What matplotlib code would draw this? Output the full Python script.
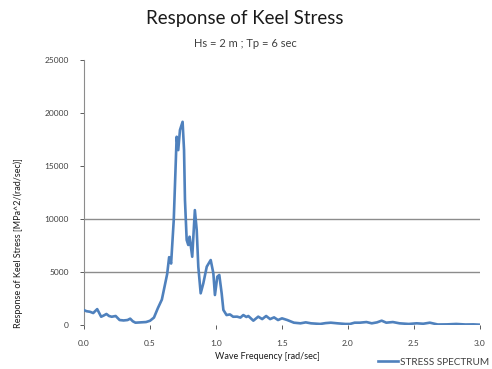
import numpy as np
import matplotlib.pyplot as plt

plt.rcParams['font.family'] = ['Lato', 'DejaVu Sans']

# wave frequency [rad/sec] and stress spectrum [MPa^2/(rad/sec)]
freq = [0.00, 0.02, 0.045, 0.07, 0.10, 0.13, 0.15, 0.17, 0.19, 0.21, 0.24, 0.27,
        0.30, 0.33, 0.35, 0.37, 0.39, 0.43, 0.47, 0.50, 0.53, 0.56, 0.59, 0.61,
        0.63, 0.645, 0.66, 0.68, 0.702, 0.714, 0.727, 0.747, 0.758, 0.765, 0.778,
        0.79, 0.80, 0.82, 0.84, 0.854, 0.866, 0.884, 0.904, 0.93, 0.96, 0.98,
        0.992, 1.01, 1.025, 1.043, 1.056, 1.08, 1.106, 1.13, 1.16, 1.185, 1.207,
        1.23, 1.245, 1.283, 1.32, 1.35, 1.38, 1.41, 1.44, 1.47, 1.50, 1.54, 1.59,
        1.64, 1.68, 1.72, 1.79, 1.83, 1.87, 1.92, 1.98, 2.015, 2.05, 2.09, 2.14,
        2.18, 2.22, 2.255, 2.29, 2.34, 2.39, 2.46, 2.52, 2.57, 2.62, 2.68, 2.75,
        2.82, 2.89, 2.95, 3.00]
stress = [1400, 1300, 1250, 1130, 1500, 780, 900, 1040, 850, 780, 850, 470,
          430, 470, 600, 350, 220, 250, 280, 400, 700, 1600, 2400, 3600,
          4800, 6400, 5800, 9900, 17760, 16500, 18390, 19170, 16500, 11790, 8020,
          7550, 8330, 6440, 10840, 8960, 5500, 2990, 3930, 5500, 6130, 4880,
          2830, 4560, 4720, 2990, 1420, 940, 1000, 780, 790, 700, 940,
          760, 850, 410, 790, 560, 850, 560, 720, 470, 630, 470, 220,
          160, 250, 160, 100, 180, 220, 160, 100, 100, 220, 220, 280,
          160, 250, 410, 220, 280, 160, 100, 160, 120, 220, 50, 60,
          100, 50, 60, 30]

yticks = [0, 5000, 10000, 15000, 20000, 25000]
xticks = [0.0, 0.5, 1.0, 1.5, 2.0, 2.5, 3.0]

fig = plt.figure(figsize=(4.92, 3.69), dpi=100)
ax = fig.add_axes([0.1707, 0.1192, 0.8049, 0.7182])

# only the 5000 and 10000 gridlines show in the original
for g in [5000, 10000]:
    ax.axhline(g, color='#8c8c8c', lw=1.0, zorder=1)

ax.plot(freq, stress, color='#4f81bd', lw=1.9, label='STRESS SPECTRUM', zorder=3,
        solid_joinstyle='round')

ax.set_xlim(0, 3)
ax.set_ylim(0, 25000)
ax.set_xticks(xticks)
ax.set_xticklabels(['%.1f' % t for t in xticks])
ax.set_yticks(yticks)
ax.set_yticklabels([str(t) for t in yticks])
ax.tick_params(axis='both', labelsize=6, colors='#404040', length=3, width=0.6)
ax.tick_params(axis='x', pad=8)
ax.tick_params(axis='y', pad=8)

for s in ['top', 'right', 'bottom']:
    ax.spines[s].set_visible(False)
ax.spines['left'].set_color('#8c8c8c')

fig.text(0.498, 0.951, 'Response of Keel Stress', ha='center', va='center',
         fontsize=13.5, color='#1a1a1a')
fig.text(0.498, 0.883, 'Hs = 2 m ; Tp = 6 sec', ha='center', va='center',
         fontsize=8, color='#404040')
fig.text(0.037, 0.34, 'Response of Keel Stress [MPa^2/(rad/sec)]', rotation=90,
         ha='center', va='center', fontsize=6.5, color='#1a1a1a')
fig.text(0.543, 0.033, 'Wave Frequency [rad/sec]', ha='center', va='center',
         fontsize=6.5, color='#1a1a1a')

fig.legend(loc='center right', bbox_to_anchor=(1.0, 0.018), frameon=False, fontsize=7.2,
           handlelength=2.0, handletextpad=0.2, labelcolor='#404040', borderaxespad=0.2,
           borderpad=0.1)

plt.savefig('out.png', dpi=100)
